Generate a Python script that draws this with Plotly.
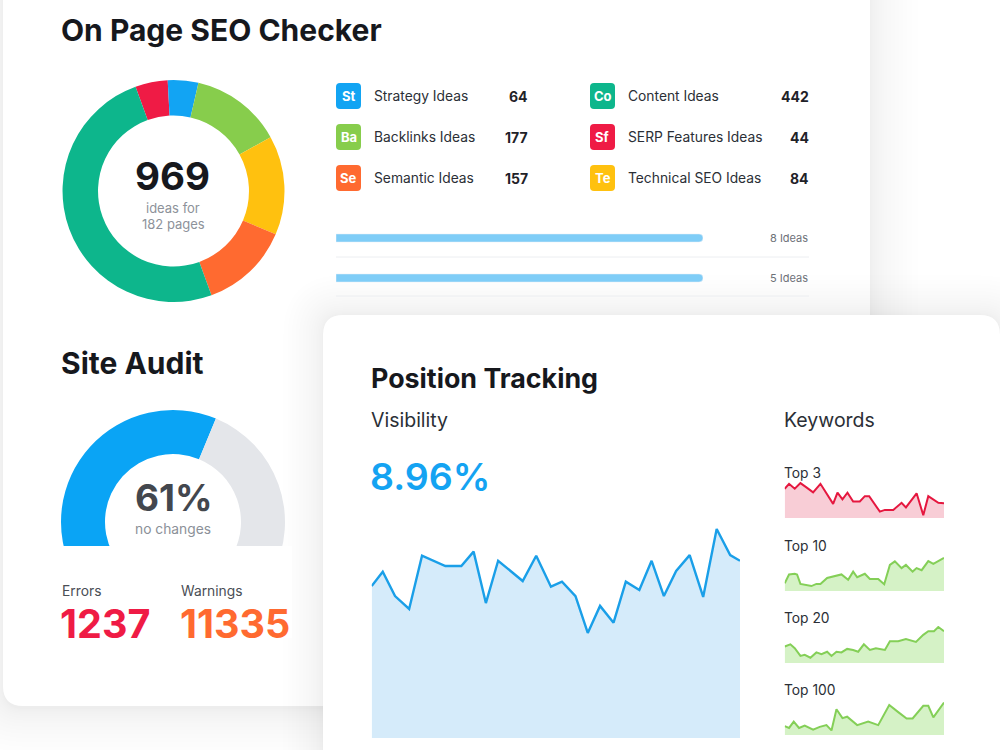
import math
import plotly.graph_objects as go

W, H = 1000, 750
FONT = "Inter, Roboto, sans-serif"

# ---------------- data ----------------
idea_abbr = ["St", "Ba", "Se", "Co", "Sf", "Te"]
idea_names = ["Strategy Ideas", "Backlinks Ideas", "Semantic Ideas",
              "Content Ideas", "SERP Features Ideas", "Technical SEO Ideas"]
idea_counts = [64, 177, 157, 442, 44, 84]
idea_colors = ["#12a4f3", "#87cd4c", "#ff6a30", "#0db68c", "#ef1b45", "#ffc10f"]

# donut slices, clockwise from the red one (arc sizes as drawn, in degrees)
donut_order = ["Sf", "St", "Ba", "Te", "Se", "Co"]
donut_arc_share = [17, 16, 48, 52, 47, 180]
donut_total = 969
donut_pages = 182

progress_labels = ["8 Ideas", "5 Ideas"]
progress_fill = [1.0, 1.0]

audit_pct = 61
audit_errors = 1237
audit_warnings = 11335

visibility_text = "8.96%"
vis_day = [0, 0.9, 1.9, 3.05, 4.1, 6.0, 7.3, 8.3, 9.3, 10.3, 12.3, 13.4, 14.6, 15.5,
           16.6, 17.6, 18.6, 19.7, 20.7, 21.8, 22.8, 23.8, 24.8, 25.9, 27.0, 28.1, 29.2, 30.0]
vis_val = [6.97, 7.63, 6.51, 5.92, 8.36, 7.89, 7.89, 8.55, 6.19, 8.13, 7.20, 8.36, 6.94, 7.17,
           6.51, 4.82, 6.06, 5.29, 7.17, 6.79, 8.13, 6.51, 7.66, 8.39, 6.47, 9.59, 8.39, 8.13]

kw_labels = ["Top 3", "Top 10", "Top 20", "Top 100"]
kw_top3_day = [0, 0.82, 1.89, 2.96, 4.09, 5.35, 6.73, 7.99, 9.12, 9.94, 10.88, 11.82, 12.89,
               14.15, 15.09, 15.91, 17.92, 18.87, 20.44, 22.01, 22.83, 24.84, 26.1, 27.04, 28.93, 30]
kw_top3_val = [83, 97, 83, 99, 87, 73, 97, 67, 40, 72, 53, 72, 47, 47, 62, 62, 18, 23, 23,
               43, 30, 70, 8, 62, 43, 42]
kw_top10_day = [0, 0.82, 1.89, 2.33, 2.96, 4.09, 5.03, 5.97, 6.73, 7.99, 9.12, 10.69, 11.95,
                12.89, 13.65, 15.09, 16.04, 17.61, 18.74, 19.81, 20.75, 22.01, 22.83, 24.09,
                24.84, 25.79, 27.04, 27.99, 30]
kw_top10_val = [22, 47, 49, 47, 20, 17, 14, 20, 20, 37, 42, 47, 32, 55, 39, 49, 34, 34, 19,
                74, 84, 65, 74, 55, 65, 59, 85, 77, 94]
kw_top20_day = [0, 1.07, 1.89, 2.96, 3.77, 4.84, 5.97, 6.92, 7.99, 8.81, 9.75, 10.69, 11.76,
                12.89, 13.84, 14.91, 16.04, 17.17, 18.87, 19.81, 21.38, 22.83, 24.72, 26.1,
                27.04, 28.11, 28.93, 30]
kw_top20_val = [47, 53, 42, 20, 23, 15, 30, 25, 32, 20, 32, 30, 40, 37, 32, 53, 37, 42, 37,
                62, 62, 68, 60, 80, 90, 90, 102, 90]
kw_top100_day = [0, 0.82, 1.7, 2.7, 3.77, 5.35, 6.6, 7.86, 8.81, 9.75, 10.88, 11.76, 13.65,
                 15.72, 17.61, 19.69, 21.38, 22.96, 24.09, 26.1, 27.04, 27.99, 30]
kw_top100_val = [25, 20, 38, 20, 27, 15, 23, 28, 13, 73, 48, 52, 28, 38, 28, 85, 65, 47, 47,
                 83, 83, 50, 92]
kw_series = [(kw_top3_day, kw_top3_val), (kw_top10_day, kw_top10_val),
             (kw_top20_day, kw_top20_val), (kw_top100_day, kw_top100_val)]
kw_line_colors = ["#e5173f", "#84cf57", "#84cf57", "#84cf57"]
kw_fill_colors = ["#f8cdd6", "#d5f2c6", "#d5f2c6", "#d5f2c6"]


# ---------------- helpers ----------------
def dom_x(p0, p1):
    return [p0 / W, p1 / W]


def dom_y(top, bottom):
    return [1 - bottom / H, 1 - top / H]


def rr_path(x0, y0, x1, y1, r):
    return (f"M{x0 + r},{y0} L{x1 - r},{y0} Q{x1},{y0} {x1},{y0 + r} "
            f"L{x1},{y1 - r} Q{x1},{y1} {x1 - r},{y1} L{x0 + r},{y1} "
            f"Q{x0},{y1} {x0},{y1 - r} L{x0},{y0 + r} Q{x0},{y0} {x0 + r},{y0} Z")


shapes = []
annotations = []


def add_rr(x0, y0, x1, y1, r, color, layer="below"):
    shapes.append(dict(type="path", path=rr_path(x0, y0, x1, y1, r), xref="x", yref="y",
                       fillcolor=color, line=dict(width=0), layer=layer))


def add_shadow(x0, y0, x1, y1, r, blur, dark, offx=0, offy=0, n=18):
    alpha = 1 - (1 - dark) ** (1 / n)
    for i in range(n):
        e = blur * ((i + 1) / n) ** 2
        add_rr(x0 - e + offx, y0 - e + offy, x1 + e + offx, y1 + e + offy, r + e,
               f"rgba(55,57,66,{alpha:.4f})")


def txt(x, y, s, size, color, weight=400, xanchor="left"):
    annotations.append(dict(x=x, y=y, xref="x", yref="y", text=s, showarrow=False,
                            xanchor=xanchor, yanchor="middle",
                            font=dict(family=FONT, size=size, color=color, weight=weight)))


# ---------------- cards ----------------
add_shadow(3, -40, 870, 706, 20, 48, 0.10, offx=0, offy=3)
add_rr(3, -40, 870, 706, 20, "#ffffff")
add_shadow(323, 315, 1000, 790, 20, 40, 0.06)
add_rr(323, 315, 1000, 790, 20, "#ffffff")

fig = go.Figure()

# ---------------- On Page SEO Checker ----------------
txt(59, 30, "On Page SEO Checker", 30, "#16181d", 700)

color_of = dict(zip(idea_abbr, idea_colors))
fig.add_trace(go.Pie(
    values=donut_arc_share, labels=donut_order, sort=False, direction="clockwise",
    rotation=-20, hole=0.68, textinfo="none", hoverinfo="skip", showlegend=False,
    marker=dict(colors=[color_of[a] for a in donut_order], line=dict(width=0)),
    domain=dict(x=dom_x(62, 285), y=dom_y(80, 302))))
txt(172, 176, str(donut_total), 38.5, "#16181d", 700, "center")
txt(173, 208, "ideas for", 13, "#8d929a", 400, "center")
txt(173, 224, f"{donut_pages} pages", 13, "#8d929a", 400, "center")

col_x = [336, 590]
val_right = [530, 811]
row_y = [96, 137, 178]
for i, (ab, nm, ct, colr) in enumerate(zip(idea_abbr, idea_names, idea_counts, idea_colors)):
    c, r = divmod(i, 3)
    x0, yc = col_x[c], row_y[r]
    add_rr(x0, yc - 13, x0 + 25, yc + 13, 4, colr)
    txt(x0 + 12.5, yc, ab, 13, "#ffffff", 700, "center")
    txt(x0 + 36, yc, nm, 13.8, "#2b2f36", 400)
    txt(val_right[c], yc, str(ct), 14, "#1f2228", 700, "right")

# progress bars
fig.add_trace(go.Bar(x=progress_fill, y=[0, 1], orientation="h", width=0.2,
                     marker=dict(color="#7fcdf7", cornerradius=4), hoverinfo="skip",
                     showlegend=False, xaxis="x7", yaxis="y7"))
for k, lab in enumerate(progress_labels):
    txt(810, 238 + 40 * k, lab, 11, "#6d7178", 400, "right")
    shapes.append(dict(type="line", xref="x", yref="y", x0=336, x1=809,
                       y0=257 + 39 * k, y1=257 + 39 * k,
                       line=dict(color="#eceef1", width=1), layer="below"))

# ---------------- Site Audit ----------------
txt(59, 363, "Site Audit", 30, "#16181d", 700)
R_g, cy_g, cut_y = 112, 522, 546
theta_vis = 90 + math.degrees(math.asin((cut_y - cy_g) / R_g))
ext = 118
blue_end = -theta_vis + audit_pct / 100 * 2 * theta_vis
fig.add_trace(go.Pie(
    values=[blue_end + ext, ext - blue_end, 360 - 2 * ext], labels=["ok", "rest", "hidden"],
    sort=False, direction="clockwise", rotation=-ext, hole=68 / R_g, textinfo="none",
    hoverinfo="skip", showlegend=False,
    marker=dict(colors=["#0aa4f5", "#e4e6ea", "rgba(0,0,0,0)"], line=dict(width=0)),
    domain=dict(x=dom_x(173 - R_g, 173 + R_g), y=dom_y(cy_g - R_g, cy_g + R_g))))
shapes.append(dict(type="rect", xref="x", yref="y", x0=55, x1=292, y0=cut_y, y1=cy_g + R_g + 4,
                   fillcolor="#ffffff", line=dict(width=0), layer="above"))
txt(174, 497, f"{audit_pct}%", 37, "#43474e", 700, "center")
txt(173, 529, "no changes", 13.8, "#8b9098", 400, "center")
txt(60, 591, "Errors", 13.8, "#4a4e55", 400)
txt(179, 591, "Warnings", 13.8, "#4a4e55", 400)
txt(58, 624, str(audit_errors), 39.5, "#ef1b45", 700)
txt(178, 624, str(audit_warnings), 39.5, "#ff6a30", 700)

# ---------------- Position Tracking ----------------
txt(369, 378, "Position Tracking", 26.8, "#16181d", 700)
txt(369, 420, "Visibility", 19.5, "#2b2f36", 400)
txt(782, 420, "Keywords", 19.5, "#2b2f36", 400)
txt(368, 476, visibility_text, 37.5, "#14a3f2", 600)

fig.add_trace(go.Scatter(x=vis_day, y=vis_val, mode="lines", fill="tozeroy",
                         line=dict(color="#1a9fe8", width=2.4), fillcolor="#d5ebfa",
                         hoverinfo="skip", showlegend=False, xaxis="x2", yaxis="y2"))

kw_bottoms = [518, 591, 663, 735]
for k, ((dd, vv), lab, lc, fc) in enumerate(zip(kw_series, kw_labels, kw_line_colors,
                                                  kw_fill_colors)):
    ax = k + 3
    fig.add_trace(go.Scatter(x=dd, y=vv, mode="lines", fill="tozeroy",
                             line=dict(color=lc, width=2), fillcolor=fc, hoverinfo="skip",
                             showlegend=False, xaxis=f"x{ax}", yaxis=f"y{ax}"))
    txt(782, kw_bottoms[k] - 45, lab, 13.8, "#2b2f36", 400)

# ---------------- layout ----------------
hidden = dict(visible=False, showgrid=False, zeroline=False, fixedrange=True)
layout = dict(
    width=W, height=H, margin=dict(l=0, r=0, t=0, b=0),
    paper_bgcolor="#ffffff", plot_bgcolor="rgba(0,0,0,0)",
    showlegend=False, shapes=shapes, annotations=annotations,
    xaxis=dict(hidden, domain=[0, 1], range=[0, W]),
    yaxis=dict(hidden, domain=[0, 1], range=[H, 0]),
    xaxis2=dict(hidden, domain=dom_x(371.7, 740), range=[0, 30], anchor="y2"),
    yaxis2=dict(hidden, domain=dom_y(520, 738), range=[0, 10], anchor="x2"),
    xaxis7=dict(hidden, domain=dom_x(336, 703), range=[0, 1], anchor="y7"),
    yaxis7=dict(hidden, domain=dom_y(225, 291), range=[1.325, -0.325], anchor="x7"),
)
for k, b in enumerate(kw_bottoms):
    ax = k + 3
    layout[f"xaxis{ax}"] = dict(hidden, domain=dom_x(784.7, 944), range=[0, 30], anchor=f"y{ax}")
    layout[f"yaxis{ax}"] = dict(hidden, domain=dom_y(b - 37, b), range=[0, 105], anchor=f"x{ax}")

fig.update_layout(**layout)
fig.write_html("out.html")
